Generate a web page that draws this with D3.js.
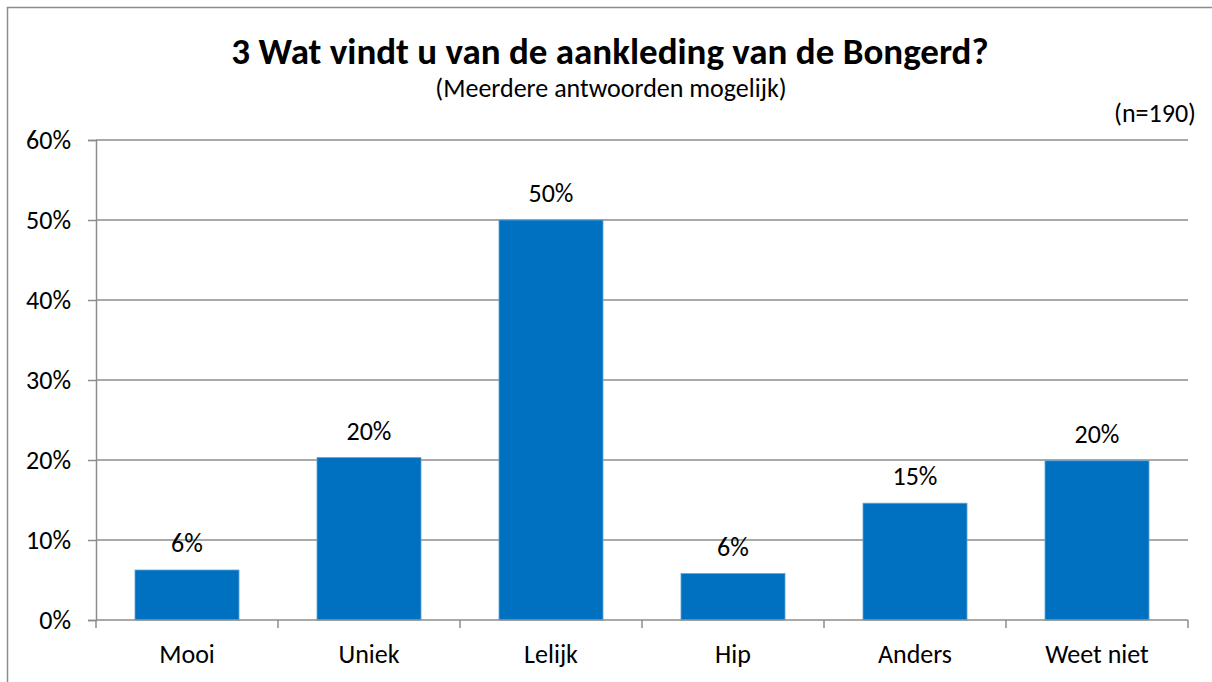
<!DOCTYPE html>
<html lang="nl">
<head>
<meta charset="utf-8">
<title>Aankleding van de Bongerd</title>
<script src="https://cdn.jsdelivr.net/npm/d3@7"></script>
<style>
  body { margin: 0; background: #fff; }
  svg { display: block; font-family: Calibri, Carlito, Lato, sans-serif; }
</style>
</head>
<body>
<svg width="1212" height="682"></svg>
<script>
// data
const categories = ["Mooi", "Uniek", "Lelijk", "Hip", "Anders", "Weet niet"];
const values = [0.0625, 0.203, 0.50, 0.058, 0.146, 0.199];
const valueLabels = ["6%", "20%", "50%", "6%", "15%", "20%"];
const yTicks = [0, 0.1, 0.2, 0.3, 0.4, 0.5, 0.6];

const svg = d3.select("svg");
const grey = "#8c8c8c";
const fs = 26;

// outer frame (only top + left visible)
svg.append("rect")
  .attr("x", 7.5).attr("y", 7.5)
  .attr("width", 1230).attr("height", 700)
  .attr("fill", "none").attr("stroke", grey).attr("stroke-width", 1.5);

const plotL = 96, plotR = 1188, plotT = 140, plotB = 620;

const x = d3.scaleBand()
  .domain(categories)
  .range([plotL, plotR])
  .paddingInner(0.4286)
  .paddingOuter(0.2143);

const y = d3.scaleLinear().domain([0, 0.6]).range([plotB, plotT]);

// gridlines
svg.append("g")
  .selectAll("line")
  .data(yTicks.slice(1))
  .join("line")
  .attr("x1", plotL).attr("x2", plotR)
  .attr("y1", d => y(d)).attr("y2", d => y(d))
  .attr("stroke", grey).attr("stroke-width", 1.5);

// y axis
const yAxis = svg.append("g")
  .attr("transform", `translate(${plotL},0)`)
  .call(d3.axisLeft(y).tickValues(yTicks).tickFormat(d3.format(".0%")).tickSize(8).tickPadding(17));
yAxis.select(".domain").attr("stroke", grey).attr("stroke-width", 1.5);
yAxis.selectAll(".tick line").attr("stroke", grey).attr("stroke-width", 1.5);
yAxis.selectAll(".tick text")
  .attr("font-family", "Calibri, Carlito, Lato, sans-serif")
  .attr("font-size", fs).attr("fill", "#000");

// bars
svg.append("g")
  .selectAll("rect")
  .data(values)
  .join("rect")
  .attr("x", (d, i) => x(categories[i]))
  .attr("y", d => y(d))
  .attr("width", x.bandwidth())
  .attr("height", d => plotB - y(d))
  .attr("fill", "#0070C0")
  .attr("stroke", "#5fa2d6")
  .attr("stroke-width", 0.8);

// x axis line and ticks at band edges
svg.append("line")
  .attr("x1", plotL).attr("x2", plotR)
  .attr("y1", plotB).attr("y2", plotB)
  .attr("stroke", grey).attr("stroke-width", 1.5);

const edges = categories.map(c => x(c) - x.step() * x.paddingInner() / 2)
  .concat([plotR]);
svg.append("g")
  .selectAll("line")
  .data(edges)
  .join("line")
  .attr("x1", d => d).attr("x2", d => d)
  .attr("y1", plotB).attr("y2", plotB + 8)
  .attr("stroke", grey).attr("stroke-width", 1.5);

// category labels
svg.append("g")
  .selectAll("text")
  .data(categories)
  .join("text")
  .attr("x", d => x(d) + x.bandwidth() / 2)
  .attr("y", 663)
  .attr("text-anchor", "middle")
  .attr("font-size", fs)
  .text(d => d);

// value labels
svg.append("g")
  .selectAll("text")
  .data(values)
  .join("text")
  .attr("x", (d, i) => x(categories[i]) + x.bandwidth() / 2)
  .attr("y", d => y(d) - 18)
  .attr("text-anchor", "middle")
  .attr("font-size", fs)
  .text((d, i) => valueLabels[i]);

// titles
svg.append("text")
  .attr("x", 610).attr("y", 64)
  .attr("text-anchor", "middle")
  .attr("font-size", 37).attr("font-weight", "bold")
  .text("3 Wat vindt u van de aankleding van de Bongerd?");

svg.append("text")
  .attr("x", 611).attr("y", 97)
  .attr("text-anchor", "middle")
  .attr("font-size", fs)
  .text("(Meerdere antwoorden mogelijk)");

svg.append("text")
  .attr("x", 1196).attr("y", 122)
  .attr("text-anchor", "end")
  .attr("font-size", fs)
  .text("(n=190)");
</script>
</body>
</html>
